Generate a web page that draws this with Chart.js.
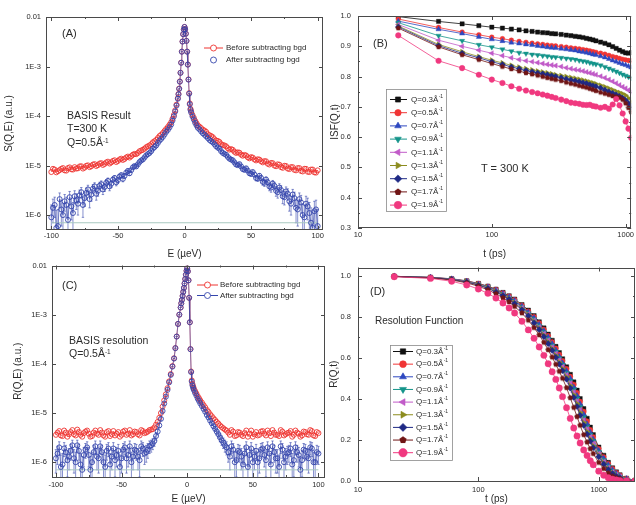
<!DOCTYPE html>
<html>
<head>
<meta charset="utf-8">
<script src="https://cdn.jsdelivr.net/npm/chart.js@4.4.1/dist/chart.umd.min.js"></script>
<style>
  html, body { margin: 0; padding: 0; background: #fff; }
  #fig { position: relative; width: 636px; height: 505px; overflow: hidden; background: #fff;
         font-family: "Liberation Sans", Arial, Helvetica, sans-serif; color: #2b2b2b; }
  #fig canvas { position: absolute; }
  .note { position: absolute; white-space: nowrap; line-height: 1; transform: translateY(-50%); }
  .note sup { font-size: 62%; vertical-align: 0.5em; line-height: 0; }
</style>
</head>
<body>
<div id="fig">
  <canvas id="chartA" width="330" height="260" style="left:0;top:0"></canvas>
  <canvas id="chartB" width="314" height="260" style="left:322px;top:0"></canvas>
  <canvas id="chartC" width="330" height="249" style="left:0;top:256px"></canvas>
  <canvas id="chartD" width="314" height="249" style="left:322px;top:256px"></canvas>

  <div class="note" style="left:62px;top:33px;font-size:11px">(A)</div>
  <div class="note" style="left:67px;top:115px;font-size:10.5px">BASIS Result</div>
  <div class="note" style="left:67px;top:128px;font-size:10.5px">T=300 K</div>
  <div class="note" style="left:67px;top:142px;font-size:10.5px">Q=0.5Å<sup>-1</sup></div>

  <div class="note" style="left:373px;top:43px;font-size:11px">(B)</div>
  <div class="note" style="left:481px;top:168px;font-size:11px">T = 300 K</div>

  <div class="note" style="left:62px;top:285px;font-size:11px">(C)</div>
  <div class="note" style="left:69px;top:340px;font-size:10.5px">BASIS resolution</div>
  <div class="note" style="left:69px;top:353px;font-size:10.5px">Q=0.5Å<sup>-1</sup></div>

  <div class="note" style="left:370px;top:291px;font-size:11px">(D)</div>
  <div class="note" style="left:375px;top:321px;font-size:10px">Resolution Function</div>
</div>
<script>
// ---------------- data: S(Q,E) and R(Q,E) spectra (µeV) ----------------
const energy = [-100,-97.5,-95,-92.5,-90,-87.5,-85,-82.5,-80,-77.5,-75,-72.5,-70,-67.5,-65,-62.5,-60,-57.5,-55,-52.5,
  -50,-47.5,-45,-42.5,-40,-37.5,-35,-32.5,-30,-27.5,-25,-22.5,-20,-17.5,-15,-12.5,-10,
  -9,-8,-7,-6,-5,-4.5,-4,-3.5,-3,-2.5,-2,-1.5,-1,-0.5,0,0.5,1,1.5,2,2.5,3,3.5,4,4.5,5,6,7,8,9,
  10,12.5,15,17.5,20,22.5,25,27.5,30,32.5,35,37.5,40,42.5,45,47.5,50,52.5,55,57.5,
  60,62.5,65,67.5,70,72.5,75,77.5,80,82.5,85,87.5,90,92.5,95,97.5,100];
// in-between energies of the wings
const energyMid = [-98.75,-96.25,-93.75,-91.25,-88.75,-86.25,-83.75,-81.25,-78.75,-76.25,-73.75,-71.25,-68.75,-66.25,
  -63.75,-61.25,-58.75,-56.25,-53.75,-51.25,-48.75,-46.25,-43.75,-41.25,-38.75,-36.25,-33.75,-31.25,-28.75,-26.25,
  -23.75,-21.25,-18.75,-16.25,-13.75,-11.25,
  11.25,13.75,16.25,18.75,21.25,23.75,26.25,28.75,31.25,33.75,36.25,38.75,41.25,43.75,46.25,48.75,51.25,53.75,
  56.25,58.75,61.25,63.75,66.25,68.75,71.25,73.75,76.25,78.75,81.25,83.75,86.25,88.75,91.25,93.75,96.25,98.75];

const beforeA = [7.4e-6,8.3e-6,7.7e-6,8.6e-6,8.0e-6,8.9e-6,8.4e-6,9.3e-6,8.8e-6,9.7e-6,9.1e-6,1.01e-5,9.7e-6,1.07e-5,1.02e-5,1.12e-5,
  1.08e-5,1.2e-5,1.16e-5,1.28e-5,1.24e-5,1.38e-5,1.36e-5,1.52e-5,1.55e-5,1.72e-5,1.8e-5,2.02e-5,2.2e-5,2.45e-5,2.7e-5,3.1e-5,
  3.6e-5,4.2e-5,5.0e-5,6.0e-5,7.5e-5,
  8.8e-5,1.05e-4,1.3e-4,1.7e-4,2.3e-4,2.8e-4,3.6e-4,5.0e-4,7.5e-4,1.2e-3,2.0e-3,3.2e-3,4.5e-3,5.6e-3,6.3e-3,5.7e-3,4.6e-3,
  3.3e-3,2.0e-3,1.1e-3,5.5e-4,2.9e-4,1.8e-4,1.4e-4,1.25e-4,1.05e-4,9.2e-5,8.0e-5,7.2e-5,
  6.5e-5,5.7e-5,5.1e-5,4.3e-5,3.95e-5,3.4e-5,3.15e-5,2.7e-5,2.55e-5,2.25e-5,2.15e-5,1.9e-5,1.85e-5,1.66e-5,1.64e-5,1.47e-5,
  1.48e-5,1.33e-5,1.34e-5,1.22e-5,1.23e-5,1.09e-5,1.13e-5,1.0e-5,1.06e-5,9.3e-6,9.9e-6,8.7e-6,9.3e-6,8.2e-6,8.9e-6,7.8e-6,
  8.6e-6,7.5e-6,8.3e-6,7.3e-6,8.0e-6];
const beforeAMid = [8.6e-6,7.3e-6,8.1e-6,8.9e-6,7.9e-6,9.2e-6,8.3e-6,8.7e-6,9.6e-6,8.7e-6,9.9e-6,9.3e-6,1.05e-5,9.8e-6,
  1.1e-5,1.03e-5,1.16e-5,1.1e-5,1.24e-5,1.18e-5,1.33e-5,1.3e-5,1.46e-5,1.45e-5,1.66e-5,1.7e-5,1.95e-5,2.08e-5,2.35e-5,
  2.55e-5,2.95e-5,3.3e-5,3.95e-5,4.55e-5,5.5e-5,6.7e-5,
  6.1e-5,5.3e-5,4.8e-5,4.1e-5,3.75e-5,3.2e-5,3.0e-5,2.6e-5,2.45e-5,2.1e-5,2.08e-5,1.8e-5,1.82e-5,1.58e-5,1.6e-5,1.4e-5,
  1.45e-5,1.27e-5,1.32e-5,1.16e-5,1.22e-5,1.05e-5,1.12e-5,9.7e-6,1.04e-5,9.0e-6,9.8e-6,8.5e-6,9.3e-6,8.0e-6,8.9e-6,
  7.6e-6,8.6e-6,7.4e-6,8.3e-6,7.2e-6];
const afterA = [9e-7,1.6e-6,6e-7,1.3e-6,1.9e-6,8e-7,1.5e-6,2.4e-6,1.7e-6,2.9e-6,2.2e-6,3.3e-6,2.6e-6,3.8e-6,3.1e-6,4.2e-6,
  3.7e-6,4.9e-6,4.3e-6,5.6e-6,5.1e-6,6.4e-6,6.2e-6,7.8e-6,8.1e-6,9.8e-6,1.06e-5,1.27e-5,1.46e-5,1.7e-5,1.96e-5,2.36e-5,
  2.86e-5,3.46e-5,4.25e-5,5.25e-5,6.75e-5,
  8.1e-5,9.8e-5,1.23e-4,1.63e-4,2.23e-4,2.73e-4,3.53e-4,4.93e-4,7.43e-4,1.19e-3,1.99e-3,3.19e-3,4.49e-3,5.59e-3,6.29e-3,
  5.69e-3,4.59e-3,3.29e-3,1.99e-3,1.09e-3,5.43e-4,2.83e-4,1.73e-4,1.33e-4,1.18e-4,9.8e-5,8.5e-5,7.3e-5,6.5e-5,
  5.8e-5,4.9e-5,4.2e-5,3.6e-5,3.1e-5,2.7e-5,2.3e-5,1.95e-5,1.72e-5,1.5e-5,1.32e-5,1.16e-5,1.02e-5,9.6e-6,8.2e-6,7.9e-6,
  6.8e-6,6.6e-6,5.5e-6,5.6e-6,4.5e-6,4.6e-6,3.6e-6,3.9e-6,2.9e-6,3.2e-6,2.3e-6,2.7e-6,1.7e-6,2.2e-6,1.3e-6,1.8e-6,
  9e-7,1.5e-6,7e-7,1.2e-6,6e-7];
const afterAMid = [1.4e-6,5.5e-7,2.1e-6,1.0e-6,1.6e-6,2.3e-6,1.1e-6,2.0e-6,2.5e-6,1.6e-6,2.8e-6,2.1e-6,3.4e-6,2.7e-6,
  3.9e-6,3.3e-6,4.5e-6,3.8e-6,5.2e-6,4.6e-6,6.0e-6,5.4e-6,7.2e-6,7.0e-6,9.2e-6,9.6e-6,1.18e-5,1.33e-5,1.6e-5,1.8e-5,
  2.2e-5,2.55e-5,3.2e-5,3.8e-5,4.8e-5,5.9e-5,
  5.4e-5,4.5e-5,3.9e-5,3.3e-5,2.95e-5,2.45e-5,2.2e-5,1.8e-5,1.65e-5,1.38e-5,1.28e-5,1.05e-5,1.07e-5,8.5e-6,8.8e-6,
  7.0e-6,7.4e-6,5.6e-6,6.2e-6,4.7e-6,5.2e-6,3.8e-6,4.3e-6,3.1e-6,3.6e-6,2.4e-6,3.0e-6,1.9e-6,2.6e-6,1.4e-6,2.1e-6,
  1.0e-6,1.7e-6,1.1e-6,5.5e-7,1.3e-6];

const beforeC = [3.6e-6,4.3e-6,3.4e-6,4.0e-6,3.7e-6,4.5e-6,3.5e-6,4.1e-6,3.3e-6,4.2e-6,3.8e-6,3.4e-6,4.4e-6,3.6e-6,4.0e-6,3.3e-6,
  4.3e-6,3.7e-6,3.5e-6,4.1e-6,3.6e-6,4.4e-6,3.8e-6,3.5e-6,4.2e-6,3.7e-6,4.5e-6,3.9e-6,4.2e-6,4.6e-6,5.1e-6,6.6e-6,
  1.0e-5,1.8e-5,3.2e-5,6.2e-5,1.3e-4,
  2.1e-4,3.6e-4,6.5e-4,1.0e-3,1.4e-3,1.7e-3,2.0e-3,2.4e-3,2.9e-3,3.5e-3,4.3e-3,5.3e-3,6.5e-3,7.8e-3,8.8e-3,7.6e-3,5.0e-3,
  2.2e-3,7.0e-4,2.0e-4,7.0e-5,4.6e-5,3.9e-5,3.5e-5,3.2e-5,2.8e-5,2.5e-5,2.2e-5,2.0e-5,
  1.8e-5,1.45e-5,1.15e-5,9.4e-6,7.8e-6,6.6e-6,5.6e-6,4.9e-6,4.4e-6,3.6e-6,4.2e-6,3.5e-6,4.0e-6,3.4e-6,4.4e-6,3.8e-6,
  3.3e-6,4.1e-6,3.6e-6,4.3e-6,3.5e-6,3.9e-6,4.5e-6,3.6e-6,3.4e-6,4.2e-6,3.7e-6,4.0e-6,3.3e-6,4.4e-6,3.8e-6,3.5e-6,
  4.1e-6,3.6e-6,4.3e-6,3.4e-6,3.9e-6];
const beforeCMid = [4.0e-6,3.5e-6,4.4e-6,3.3e-6,4.1e-6,3.7e-6,4.6e-6,3.6e-6,3.9e-6,4.4e-6,3.3e-6,4.0e-6,3.8e-6,4.5e-6,
  3.5e-6,4.1e-6,3.4e-6,4.3e-6,3.8e-6,3.3e-6,4.2e-6,3.6e-6,4.5e-6,3.7e-6,4.1e-6,3.5e-6,4.3e-6,4.0e-6,4.5e-6,4.7e-6,
  5.8e-6,8.0e-6,1.35e-5,2.4e-5,4.4e-5,9.0e-5,
  1.62e-5,1.3e-5,1.05e-5,8.6e-6,7.2e-6,6.1e-6,5.2e-6,4.6e-6,4.0e-6,4.5e-6,3.4e-6,4.1e-6,3.6e-6,3.9e-6,3.3e-6,4.4e-6,
  3.7e-6,3.5e-6,4.2e-6,3.8e-6,4.4e-6,3.4e-6,4.0e-6,3.6e-6,4.5e-6,3.5e-6,3.9e-6,4.3e-6,3.6e-6,4.0e-6,3.3e-6,4.2e-6,
  3.7e-6,4.5e-6,3.5e-6,4.1e-6];
const afterC = [1.2e-6,2.0e-6,9e-7,1.6e-6,1.3e-6,2.2e-6,1.0e-6,1.7e-6,7e-7,1.8e-6,1.4e-6,1.0e-6,2.1e-6,1.2e-6,1.6e-6,8e-7,
  1.9e-6,1.3e-6,1.1e-6,1.7e-6,1.2e-6,2.0e-6,1.4e-6,1.0e-6,1.8e-6,1.3e-6,2.1e-6,1.5e-6,1.8e-6,2.2e-6,2.7e-6,4.2e-6,
  7.6e-6,1.56e-5,2.96e-5,5.96e-5,1.28e-4,
  2.08e-4,3.58e-4,6.48e-4,9.98e-4,1.4e-3,1.7e-3,2.0e-3,2.4e-3,2.9e-3,3.5e-3,4.3e-3,5.3e-3,6.5e-3,7.8e-3,8.8e-3,7.6e-3,
  5.0e-3,2.2e-3,7.0e-4,1.98e-4,6.8e-5,4.36e-5,3.66e-5,3.26e-5,2.96e-5,2.56e-5,2.26e-5,1.96e-5,1.76e-5,
  1.56e-5,1.21e-5,9.1e-6,7.0e-6,5.4e-6,4.2e-6,3.2e-6,2.5e-6,2.0e-6,1.3e-6,1.8e-6,1.1e-6,1.6e-6,9e-7,2.0e-6,1.4e-6,
  1.0e-6,1.7e-6,1.2e-6,1.9e-6,1.1e-6,1.5e-6,2.1e-6,1.2e-6,8e-7,1.8e-6,1.3e-6,1.6e-6,9e-7,2.0e-6,1.4e-6,1.1e-6,
  1.7e-6,1.2e-6,1.9e-6,1.0e-6,1.5e-6];
const afterCMid = [1.5e-6,8e-7,1.9e-6,1.1e-6,1.7e-6,1.2e-6,2.2e-6,9e-7,1.4e-6,2.0e-6,7e-7,1.6e-6,1.3e-6,2.1e-6,1.0e-6,
  1.7e-6,9e-7,1.9e-6,1.4e-6,8e-7,1.8e-6,1.2e-6,2.1e-6,1.3e-6,1.7e-6,1.1e-6,1.9e-6,1.6e-6,2.1e-6,2.4e-6,3.4e-6,5.6e-6,
  1.1e-5,2.15e-5,4.2e-5,8.8e-5,
  1.38e-5,1.06e-5,8.1e-6,6.2e-6,4.8e-6,3.7e-6,2.8e-6,2.2e-6,1.6e-6,2.1e-6,1.0e-6,1.7e-6,1.3e-6,1.5e-6,8e-7,1.9e-6,
  1.3e-6,1.0e-6,1.8e-6,1.4e-6,2.0e-6,9e-7,1.6e-6,1.2e-6,2.1e-6,1.0e-6,1.5e-6,1.9e-6,1.1e-6,1.6e-6,7e-7,1.8e-6,
  1.3e-6,2.0e-6,1.0e-6,1.6e-6];
const errorA = 7e-7;      // error bar half-height on "after" points
const errorC = 6e-7;
const baseline = 7e-7;    // thin horizontal reference line

// ---------------- data: ISF(Q,t) and R(Q,t) (ps) ----------------
const qValues = ['0.3','0.5','0.7','0.9','1.1','1.3','1.5','1.7','1.9'];

const timeB = [20,40,60,80,100,120,140,160,180,200,220,240,260,280,300,330,360,390,420,450,480,510,540,570,600,
  650,700,750,800,850,900,950,1000,1050,1100];
const isf03 = [.998,.982,.974,.968,.963,.960,.957,.954,.951,.949,.947,.945,.944,.942,.941,.939,.937,.935,.933,.931,.929,.926,.924,.921,.918,.914,.910,.905,.899,.893,.887,.882,.878,.877,.879];
const isf05 = [.990,.962,.947,.938,.930,.925,.920,.916,.913,.910,.908,.906,.904,.902,.901,.899,.897,.895,.893,.891,.889,.887,.885,.882,.880,.877,.874,.870,.866,.863,.860,.857,.855,.853,.852];
const isf07 = [.983,.956,.942,.931,.923,.917,.912,.909,.906,.904,.901,.899,.897,.895,.894,.892,.890,.888,.886,.883,.881,.879,.876,.873,.871,.867,.863,.858,.853,.849,.845,.841,.838,.834,.830];
const isf09 = [.978,.935,.918,.905,.897,.890,.884,.879,.876,.873,.871,.869,.867,.865,.864,.862,.860,.858,.856,.853,.851,.849,.846,.843,.841,.837,.832,.827,.822,.817,.812,.807,.803,.799,.795];
const isf11 = [.972,.920,.900,.887,.877,.869,.862,.856,.852,.849,.846,.843,.840,.838,.836,.833,.829,.826,.823,.821,.818,.815,.812,.809,.806,.801,.796,.790,.784,.778,.772,.766,.761,.755,.749];
const isf13 = [.967,.906,.882,.866,.854,.845,.837,.831,.826,.822,.818,.815,.812,.809,.806,.803,.800,.797,.794,.791,.788,.785,.782,.779,.776,.771,.766,.761,.756,.751,.747,.743,.738,.729,.718];
const isf15 = [.964,.902,.877,.862,.849,.840,.832,.826,.820,.816,.812,.809,.806,.803,.800,.796,.792,.789,.786,.783,.780,.777,.773,.770,.767,.762,.756,.750,.745,.740,.735,.729,.722,.711,.700];
const isf17 = [.960,.898,.872,.856,.843,.833,.825,.818,.812,.808,.804,.800,.796,.793,.790,.786,.781,.777,.774,.770,.767,.764,.760,.757,.753,.748,.744,.740,.736,.733,.731,.724,.712,.697,.683];
const isf19 = [.936,.852,.828,.806,.790,.779,.768,.760,.754,.749,.745,.741,.737,.733,.729,.724,.719,.714,.712,.710,.707,.706,.707,.703,.701,.697,.700,.694,.708,.726,.705,.678,.652,.628,.598];

const timeD = [20,40,60,80,100,120,140,160,180,200,230,260,290,320,350,380,410,440,470,500,540,580,620,660,700,
  750,800,850,900,1000,1100,1200,1300,1400,1500,1700,2000];
const res03 = [.997,.992,.985,.975,.962,.949,.934,.918,.902,.886,.859,.832,.805,.775,.745,.715,.685,.655,.625,.595,.556,.519,.482,.442,.401,.352,.305,.262,.225,.165,.125,.090,.064,.044,.030,.013,.003];
const res05 = [.997,.992,.984,.974,.961,.947,.932,.915,.899,.882,.855,.827,.799,.769,.738,.707,.677,.646,.616,.585,.546,.508,.470,.429,.387,.338,.291,.249,.214,.157,.117,.084,.059,.040,.027,.012,.003];
const res07 = [.997,.991,.984,.973,.959,.945,.930,.913,.896,.879,.851,.822,.794,.762,.731,.700,.669,.637,.606,.575,.536,.499,.457,.415,.374,.324,.277,.237,.203,.149,.110,.078,.054,.036,.023,.011,.002];
const res09 = [.997,.991,.983,.972,.958,.944,.927,.910,.893,.875,.847,.817,.788,.756,.724,.692,.660,.629,.597,.566,.526,.487,.445,.401,.360,.310,.264,.224,.193,.141,.102,.071,.048,.032,.021,.009,.002];
const res11 = [.997,.991,.983,.971,.957,.942,.925,.908,.890,.872,.843,.813,.782,.749,.717,.685,.652,.620,.588,.556,.516,.476,.432,.388,.346,.296,.252,.214,.182,.133,.094,.065,.043,.029,.020,.008,.001];
const res13 = [.997,.991,.982,.970,.956,.940,.923,.905,.888,.868,.838,.809,.776,.743,.710,.677,.644,.611,.578,.547,.506,.464,.419,.376,.333,.284,.240,.204,.171,.125,.087,.059,.040,.026,.017,.007,.001];
const res15 = [.997,.991,.982,.969,.954,.938,.920,.903,.885,.864,.834,.804,.770,.737,.703,.669,.636,.602,.569,.537,.496,.452,.407,.363,.320,.271,.228,.194,.162,.118,.082,.055,.036,.023,.015,.005,.001];
const res17 = [.996,.989,.979,.965,.949,.931,.912,.892,.872,.850,.818,.783,.747,.711,.675,.639,.603,.568,.534,.500,.454,.405,.358,.313,.271,.225,.189,.157,.133,.090,.060,.038,.023,.015,.010,.002,.000];
const res19 = [.995,.987,.973,.955,.935,.914,.891,.867,.843,.818,.778,.736,.695,.653,.612,.571,.532,.495,.453,.411,.357,.305,.258,.219,.185,.151,.124,.099,.079,.048,.028,.016,.009,.005,.002,.001,.000];

const isfSeries = [isf03, isf05, isf07, isf09, isf11, isf13, isf15, isf17, isf19];
const resSeries = [res03, res05, res07, res09, res11, res13, res15, res17, res19];

// ---------------- styles ----------------
const FONT = '"Liberation Sans", Arial, Helvetica, sans-serif';
const INK = '#2b2b2b';
const RED = '#ee3431';
const BLUE = '#3546ad';
const qColors = ['#111111','#f03535','#2e48c0','#14948a','#c15bc8','#8c8c1e','#1f2a85','#701515','#f0387f'];
const qRotation = [0, 0, 0, 180, 270, 90, 0, 0, 0];

Chart.defaults.font.family = FONT;
Chart.defaults.color = INK;
Chart.defaults.animation = false;

function polygonMarker(r, color, sides) {
  const c = document.createElement('canvas');
  const s = Math.ceil(2 * r + 2);
  c.width = c.height = s;
  const g = c.getContext('2d');
  g.fillStyle = color;
  g.beginPath();
  for (let i = 0; i < sides; i++) {
    const a = -Math.PI / 2 + i * 2 * Math.PI / sides;
    const px = s / 2 + r * Math.cos(a), py = s / 2 + r * Math.sin(a);
    if (i) g.lineTo(px, py); else g.moveTo(px, py);
  }
  g.closePath();
  g.fill();
  return c;
}
const styleFor = (r) => ['rect','circle','triangle','triangle','triangle','triangle','rectRot', polygonMarker(r, qColors[7], 5), 'circle'];

function isDecade(v) {
  const l = Math.log10(v);
  return Math.abs(l - Math.round(l)) < 1e-6;
}
const sciLabel = (v) => {
  if (!isDecade(v)) return null;
  const e = Math.round(Math.log10(v));
  return e === -2 ? '0.01' : '1E' + e;
};
const plainLogLabel = (v) => isDecade(v) ? String(Math.round(v)) : null;

// frame + inward ticks on all four sides
function tickMarks(scale) {
  const out = [];
  const t = scale.ticks;
  if (scale.type === 'logarithmic') {
    t.forEach(k => {
      const v = k.value;
      const e = Math.floor(Math.log10(v) + 1e-9);
      const m = v / Math.pow(10, e);
      if (isDecade(v)) out.push([v, 4]);
      else if (Math.abs(m - Math.round(m)) < 1e-6) out.push([v, 2]);
    });
  } else {
    t.forEach((k, i) => {
      out.push([k.value, 4]);
      if (i < t.length - 1) out.push([(k.value + t[i + 1].value) / 2, 2]);
    });
  }
  return out;
}
const framePlugin = {
  id: 'frame',
  afterDraw(chart) {
    const { ctx, chartArea: a } = chart;
    ctx.save();
    ctx.strokeStyle = '#4a4a4a';
    ctx.lineWidth = 1;
    ctx.beginPath();
    tickMarks(chart.scales.x).forEach(([v, len]) => {
      const p = Math.round(chart.scales.x.getPixelForValue(v)) + 0.5;
      if (p < a.left - 0.5 || p > a.right + 0.5) return;
      ctx.moveTo(p, a.bottom); ctx.lineTo(p, a.bottom - len);
      ctx.moveTo(p, a.top); ctx.lineTo(p, a.top + len);
    });
    tickMarks(chart.scales.y).forEach(([v, len]) => {
      const p = Math.round(chart.scales.y.getPixelForValue(v)) + 0.5;
      if (p < a.top - 0.5 || p > a.bottom + 0.5) return;
      ctx.moveTo(a.left, p); ctx.lineTo(a.left + len, p);
      ctx.moveTo(a.right, p); ctx.lineTo(a.right - len, p);
    });
    ctx.stroke();
    ctx.strokeRect(Math.round(a.left) + 0.5, Math.round(a.top) + 0.5,
                   Math.round(a.right - a.left) - 1, Math.round(a.bottom - a.top) - 1);
    ctx.restore();
  }
};

function errorBars(datasetIndex, err, color) {
  return {
    id: 'errorBars',
    beforeDatasetsDraw(chart) {
      const { ctx, chartArea: a, scales: { x, y } } = chart;
      const ds = chart.data.datasets[datasetIndex];
      ctx.save();
      ctx.beginPath();
      ctx.rect(a.left, a.top, a.right - a.left, a.bottom - a.top);
      ctx.clip();
      ctx.strokeStyle = color;
      ctx.lineWidth = 0.6;
      ctx.beginPath();
      ds.data.forEach(p => {
        const px = x.getPixelForValue(p.x);
        const lo = p.y - err;
        const yTop = y.getPixelForValue(p.y + err);
        const yBot = lo > 0 ? y.getPixelForValue(lo) : a.bottom + 4;
        ctx.moveTo(px, yTop); ctx.lineTo(px, yBot);
        ctx.moveTo(px - 1.2, yTop); ctx.lineTo(px + 1.2, yTop);
        if (lo > 0) { ctx.moveTo(px - 1.2, yBot); ctx.lineTo(px + 1.2, yBot); }
      });
      ctx.stroke();
      ctx.restore();
    }
  };
}

function inlineLegend(cfg) {
  return {
    id: 'inlineLegend',
    afterDraw(chart) {
      const ctx = chart.ctx;
      ctx.save();
      if (cfg.box) {
        const [bx, by, bw, bh] = cfg.box;
        ctx.fillStyle = '#fff';
        ctx.fillRect(bx, by, bw, bh);
        ctx.strokeStyle = '#8a8a8a';
        ctx.lineWidth = 0.8;
        ctx.strokeRect(bx + 0.5, by + 0.5, bw, bh);
      }
      cfg.items.forEach((it, i) => {
        const y = cfg.y + i * cfg.gap;
        if (it.line) {
          ctx.strokeStyle = it.color;
          ctx.lineWidth = 1;
          ctx.beginPath();
          ctx.moveTo(cfg.lineX[0], y); ctx.lineTo(cfg.lineX[1], y);
          ctx.stroke();
        }
        ctx.strokeStyle = it.color;
        ctx.fillStyle = it.open ? '#fff' : it.color;
        ctx.lineWidth = it.open ? 0.9 : 0.6;
        Chart.helpers.drawPoint(ctx, { pointStyle: it.style, rotation: it.rotation || 0,
          radius: it.radius, borderWidth: it.open ? 0.9 : 0.6 }, cfg.markerX, y);
        ctx.fillStyle = INK;
        ctx.textAlign = 'left';
        ctx.textBaseline = 'middle';
        ctx.font = cfg.fontSize + 'px ' + FONT;
        ctx.fillText(it.label, cfg.textX, y);
        if (it.sup) {
          const w = ctx.measureText(it.label).width;
          ctx.font = (cfg.fontSize * 0.62) + 'px ' + FONT;
          ctx.fillText(it.sup, cfg.textX + w + 0.3, y - cfg.fontSize * 0.38);
        }
      });
      ctx.restore();
    }
  };
}

const hidden = { display: false, drawTicks: false };
const tickFont = { family: FONT, size: 7.5 };
const titleFont = { family: FONT, size: 10 };

// ---------------- energy panels (A, C) ----------------
function spectrum(values, valuesMid) {
  return energy.map((e, i) => ({ x: e, y: values[i] }))
    .concat(energyMid.map((e, i) => ({ x: e, y: valuesMid[i] })))
    .sort((p, q) => p.x - q.x);
}
function energySet(points, color, order) {
  return {
    data: points,
    showLine: true, borderColor: color, borderWidth: 0.6,
    pointStyle: 'circle', pointRadius: 2.5, pointBorderWidth: 0.9,
    pointBorderColor: color, pointBackgroundColor: 'rgba(255,255,255,0)', order
  };
}
function baselineSet() {
  return {
    data: [{ x: -100, y: baseline }, { x: 100, y: baseline }],
    showLine: true, borderColor: '#a9c9c0', borderWidth: 1, pointRadius: 0, order: 5
  };
}
function energyOptions(o) {
  return {
    responsive: false, events: [],
    layout: { padding: o.pad, autoPadding: false },
    plugins: { legend: { display: false }, tooltip: { enabled: false } },
    scales: {
      x: {
        type: 'linear', min: o.xMin, max: o.xMax,
        grid: hidden, border: { display: false },
        ticks: { stepSize: 50, includeBounds: false, font: tickFont, padding: o.xPad, color: INK },
        title: { display: true, text: 'E (µeV)', font: titleFont, color: INK, padding: { top: 0, bottom: 0 } },
        afterFit: s => { s.height = o.xHeight; }
      },
      y: {
        type: 'logarithmic', min: 5e-7, max: 0.01,
        grid: hidden, border: { display: false },
        ticks: { autoSkip: false, callback: sciLabel, font: tickFont, padding: o.yPad, color: INK },
        title: { display: true, text: o.yTitle, font: titleFont, color: INK, padding: { top: o.yTitlePad, bottom: 0 } },
        afterFit: s => { s.width = o.yWidth; }
      }
    }
  };
}

new Chart(document.getElementById('chartA'), {
  type: 'scatter',
  data: { datasets: [
    energySet(spectrum(afterA, afterAMid), BLUE, 0),
    energySet(spectrum(beforeA, beforeAMid), RED, 1),
    baselineSet()
  ] },
  options: energyOptions({ pad: { left: 0, top: 17, right: 7, bottom: 0 }, xHeight: 30, yWidth: 46,
    xMin: -104, xMax: 104, xPad: 1, yPad: 5, yTitle: 'S(Q,E) (a.u.)', yTitlePad: 3 }),
  plugins: [errorBars(0, errorA, BLUE), framePlugin, inlineLegend({
    y: 48, gap: 12, lineX: [204, 223], markerX: 213.5, textX: 226, fontSize: 8,
    items: [
      { label: 'Before subtracting bgd', color: RED, open: true, line: true, style: 'circle', radius: 3 },
      { label: 'After subtracting bgd', color: BLUE, open: true, line: false, style: 'circle', radius: 3 }
    ]
  })]
});

new Chart(document.getElementById('chartC'), {
  type: 'scatter',
  data: { datasets: [
    energySet(spectrum(afterC, afterCMid), BLUE, 0),
    energySet(spectrum(beforeC, beforeCMid), RED, 1),
    baselineSet()
  ] },
  options: energyOptions({ pad: { left: 0, top: 7, right: 5, bottom: 0 }, xHeight: 28, yWidth: 52,
    xMin: -103, xMax: 105, xPad: 3, yPad: 5, yTitle: 'R(Q,E) (a.u.)', yTitlePad: 12 }),
  plugins: [errorBars(0, errorC, BLUE), framePlugin, inlineLegend({
    y: 29, gap: 10.5, lineX: [197, 218], markerX: 207.5, textX: 220, fontSize: 8,
    items: [
      { label: 'Before subtracting bgd', color: RED, open: true, line: true, style: 'circle', radius: 3 },
      { label: 'After subtracting bgd', color: BLUE, open: true, line: true, style: 'circle', radius: 3 }
    ]
  })]
});

// ---------------- time panels (B, D) ----------------
function timeSets(times, series, radii, styles) {
  return series.map((vals, i) => ({
    data: times.map((t, k) => ({ x: t, y: vals[k] })),
    showLine: true, borderColor: qColors[i], borderWidth: 0.8,
    pointStyle: styles[i], pointRotation: qRotation[i], pointRadius: radii[i],
    pointBackgroundColor: qColors[i], pointBorderColor: qColors[i], pointBorderWidth: 0.4,
    order: series.length - 1 - i
  }));
}
function timeOptions(o) {
  return {
    responsive: false, events: [],
    layout: { padding: o.pad, autoPadding: false },
    plugins: { legend: { display: false }, tooltip: { enabled: false } },
    scales: {
      x: {
        type: 'logarithmic', min: 10, max: o.xMax,
        grid: hidden, border: { display: false },
        ticks: { autoSkip: false, maxRotation: 0, callback: plainLogLabel, font: tickFont, padding: o.xPad, color: INK },
        title: { display: true, text: 't (ps)', font: titleFont, color: INK, padding: { top: 0, bottom: 0 } },
        afterFit: s => { s.height = o.xHeight; }
      },
      y: {
        type: 'linear', min: o.yMin, max: o.yMax,
        grid: hidden, border: { display: false },
        ticks: { stepSize: o.yStep, includeBounds: false, callback: v => v.toFixed(1), font: tickFont, padding: 7, color: INK },
        title: { display: true, text: o.yTitle, font: titleFont, color: INK, padding: { top: o.yTitlePad, bottom: 0 } },
        afterFit: s => { s.width = 36; }
      }
    }
  };
}
function qLegendItems(radii, styles) {
  return qValues.map((q, i) => ({
    label: 'Q=' + q + 'Å', sup: '-1', color: qColors[i], line: true,
    style: styles[i], rotation: qRotation[i], radius: radii[i]
  }));
}

const radB = [3.0, 2.4, 3.0, 3.0, 3.0, 3.0, 3.0, 2.8, 2.8];
const radD = [3.1, 2.6, 3.2, 3.2, 3.2, 3.2, 3.1, 2.9, 3.2];
const legRadB = [3.6, 3.2, 3.8, 3.8, 3.8, 3.8, 3.8, 3.6, 3.8];
const legRadD = [3.8, 3.4, 4.0, 4.0, 4.0, 4.0, 4.0, 3.8, 4.2];

new Chart(document.getElementById('chartB'), {
  type: 'scatter',
  data: { datasets: timeSets(timeB, isfSeries, radB, styleFor(2.8)) },
  options: timeOptions({ pad: { left: 0, top: 16, right: 1, bottom: 0 }, xHeight: 32, xMax: 1100, xPad: 2,
    yMin: 0.3, yMax: 1.0, yStep: 0.1, yTitle: 'ISF(Q,t)', yTitlePad: 7 }),
  plugins: [framePlugin, inlineLegend({
    box: [64, 89, 60, 122], y: 99.5, gap: 13.2, lineX: [68, 85], markerX: 76, textX: 89, fontSize: 8,
    items: qLegendItems(legRadB, styleFor(3.6))
  })]
});

new Chart(document.getElementById('chartD'), {
  type: 'scatter',
  data: { datasets: timeSets(timeD, resSeries, radD, styleFor(2.9)) },
  options: timeOptions({ pad: { left: 0, top: 7, right: 1, bottom: 0 }, xHeight: 24, xMax: 2000, xPad: 4,
    yMin: 0, yMax: 1.04, yStep: 0.2, yTitle: 'R(Q,t)', yTitlePad: 6 }),
  plugins: [framePlugin, inlineLegend({
    box: [68, 89, 62, 115], y: 95.5, gap: 12.65, lineX: [71, 91], markerX: 81, textX: 94, fontSize: 8,
    items: qLegendItems(legRadD, styleFor(3.8))
  })]
});
</script>
</body>
</html>
